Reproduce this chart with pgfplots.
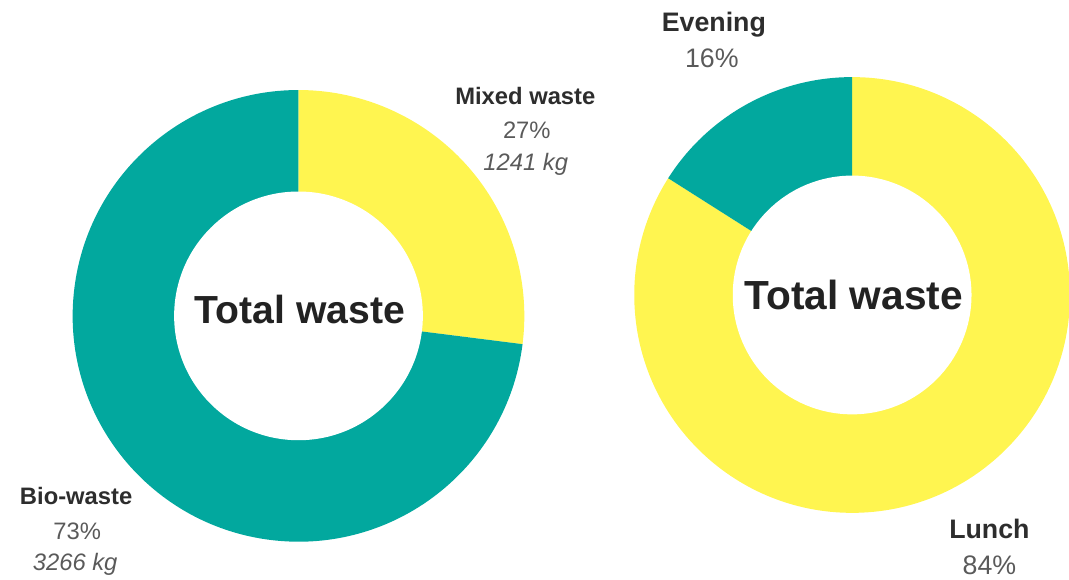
\documentclass[border=0pt]{standalone}
\usepackage{pgfplots}
\pgfplotsset{compat=1.18}
\usepackage{pgfplotstable}
\usepackage{fontspec}
\setmainfont{Liberation Sans}
\definecolor{wteal}{RGB}{2,168,158}
\definecolor{wyellow}{RGB}{255,245,80}
\definecolor{lab}{RGB}{45,45,45}
\definecolor{val}{RGB}{90,90,90}
\definecolor{ctr}{RGB}{34,34,34}

% left donut: share of total waste
\pgfplotstableread{
part pct kg
mixed 27 1241
bio 73 3266
}\wastetable
% right donut: share by meal
\pgfplotstableread{
part pct
lunch 84
evening 16
}\timetable

\newcommand{\donutwedge}[6]{%
  \fill[#6] (axis cs:#1,#2) -- ++(#4:#3) arc[start angle=#4, end angle=#5, radius=#3] -- cycle;}

\begin{document}
\pgfplotstablegetelem{0}{pct}\of\wastetable \let\mixedpct\pgfplotsretval
\pgfplotstablegetelem{1}{pct}\of\wastetable \let\biopct\pgfplotsretval
\pgfplotstablegetelem{0}{kg}\of\wastetable \let\mixedkg\pgfplotsretval
\pgfplotstablegetelem{1}{kg}\of\wastetable \let\biokg\pgfplotsretval
\pgfplotstablegetelem{0}{pct}\of\timetable \let\lunchpct\pgfplotsretval
\pgfplotstablegetelem{1}{pct}\of\timetable \let\evepct\pgfplotsretval
\pgfmathsetmacro{\angA}{90-3.6*\mixedpct}
\pgfmathsetmacro{\angB}{90-3.6*\lunchpct}
\begin{tikzpicture}
\begin{axis}[
  width=1069bp, height=582bp, scale only axis,
  xmin=0, xmax=1069, ymin=0, ymax=582,
  hide axis, clip=false,
]
\addplot[draw=none] coordinates {(0,0) (1069,582)};
% left donut
\donutwedge{294.5}{264.5}{227bp}{90}{\angA}{wyellow}
\donutwedge{294.5}{264.5}{227bp}{\angA}{-270}{wteal}
\fill[white] (axis cs:294.5,264.5) circle[radius=125bp];
% right donut
\donutwedge{851}{285.5}{219bp}{90}{\angB}{wyellow}
\donutwedge{851}{285.5}{219bp}{\angB}{-270}{wteal}
\fill[white] (axis cs:851,285.5) circle[radius=120bp];
% centre texts
\node[anchor=base, inner sep=0, text=ctr, font=\fontsize{39.5}{44}\selectfont\bfseries] at (axis cs:296,257) {Total waste};
\node[anchor=base, inner sep=0, text=ctr, font=\fontsize{41}{46}\selectfont\bfseries] at (axis cs:852.5,271) {Total waste};
% left labels
\node[anchor=base, inner sep=0, text=lab, font=\fontsize{24}{28}\selectfont\bfseries] at (axis cs:522.5,477) {Mixed waste};
\node[anchor=base, inner sep=0, text=val, font=\fontsize{24}{28}\selectfont] at (axis cs:524,443) {\mixedpct\%};
\node[anchor=base, inner sep=0, text=val, font=\fontsize{24}{28}\selectfont\itshape] at (axis cs:523,411) {\mixedkg\ kg};
\node[anchor=base, inner sep=0, text=lab, font=\fontsize{24}{28}\selectfont\bfseries] at (axis cs:71,75) {Bio-waste};
\node[anchor=base, inner sep=0, text=val, font=\fontsize{24}{28}\selectfont] at (axis cs:72,40) {\biopct\%};
\node[anchor=base, inner sep=0, text=val, font=\fontsize{24}{28}\selectfont\itshape] at (axis cs:70,9) {\biokg\ kg};
% right labels
\node[anchor=base, inner sep=0, text=lab, font=\fontsize{27}{31}\selectfont\bfseries] at (axis cs:712,550) {Evening};
\node[anchor=base, inner sep=0, text=val, font=\fontsize{27}{31}\selectfont] at (axis cs:710,514) {\evepct\%};
\node[anchor=base, inner sep=0, text=lab, font=\fontsize{27}{31}\selectfont\bfseries] at (axis cs:989,41) {Lunch};
\node[anchor=base, inner sep=0, text=val, font=\fontsize{27}{31}\selectfont] at (axis cs:989,5) {\lunchpct\%};
\end{axis}
\pgfresetboundingbox
\path[use as bounding box] (current axis.south west) rectangle (current axis.north east);
\end{tikzpicture}
\end{document}
